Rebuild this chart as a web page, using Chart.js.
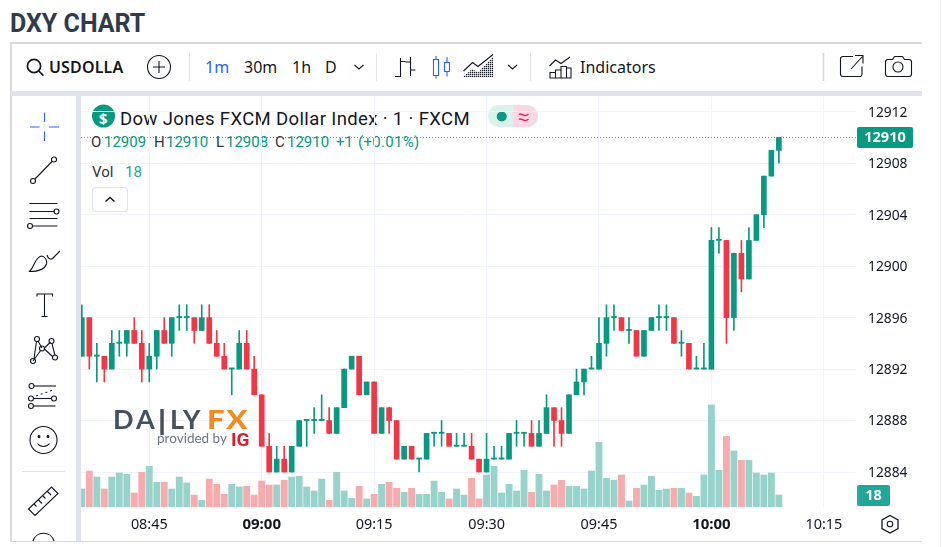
<!DOCTYPE html>
<html><head><meta charset="utf-8">
<script src="https://cdn.jsdelivr.net/npm/chart.js@4"></script>
<style>
html,body{margin:0;padding:0;background:#fff;width:947px;height:547px;overflow:hidden}
.a{position:absolute;white-space:nowrap;line-height:1}
.w{font-family:"Noto Sans",sans-serif;color:#131722}
svg.a{fill:none;stroke:#131722;stroke-width:1.1;overflow:visible}
#chart{position:absolute;left:0;top:0}
.g{color:#089981}
.l{font:700 27px Lato,sans-serif;color:#46505f;top:402px}
.f{font:900 27px Lato,sans-serif;color:#f68a1f;top:402px;transform-origin:0 0}
</style></head><body>
<div class="a" style="left:10px;top:9px;font:700 25px Roboto,sans-serif;color:#2f3b4b">DXY CHART</div>
<div class="a" style="left:10px;top:42px;width:912px;height:1.5px;background:#d9d9d9"></div>
<div class="a" style="left:10px;top:42px;width:1.5px;height:500px;background:#d9d9d9"></div>
<div class="a" style="left:10px;top:540.5px;width:912px;height:1.5px;background:#d9d9d9"></div>
<div class="a" style="left:940px;top:0;width:1px;height:547px;background:#f3f3f3"></div>
<div class="a" style="left:11px;top:91px;width:911px;height:5px;background:#e0e3eb"></div>
<div class="a" style="left:76px;top:96px;width:5px;height:445px;background:#e0e3eb"></div>

<svg class="a" style="left:0;top:0;width:947px;height:547px">
 <g stroke-width="1.7"><circle cx="34" cy="66" r="6.6"/><path d="M38.8 71l4.6 4.6"/></g>
 <circle cx="159" cy="67" r="11.5" stroke-width="1.1"/><path d="M153 67h12M159 61v12"/>
 <g stroke="#e0e3eb"><path d="M189.500 53v28M376.500 53v28M530.500 53v28"/></g><path d="M823.500 53v28" stroke="#d6d6d6" stroke-width="1.6"/>
 <path d="M354.500 65l4.500 4 4.500-4M508 65l4.500 4 4.500-4"/>
 <path d="M400.500 58v19M395 76.500h5.500M400.500 61.500h5M410.500 57v19M405.500 62h5M410.500 70h5"/>
 <g stroke="#2962ff"><rect x="433.500" y="59.500" width="5" height="16"/><path d="M436 56v3.500M436 75.500v3"/><rect x="444.500" y="62.500" width="5" height="9"/><path d="M447 57v5.500M447 71.500v5"/></g>
 <defs><pattern id="h" width="2" height="2" patternUnits="userSpaceOnUse"><rect width="1.300" height="1.300" fill="#131722" stroke="none"/></pattern></defs>
 <path d="M463 77l9-8 6 3.500 15-15.500v20z" fill="url(#h)" stroke="none"/><path d="M463.500 71l9-8.500 5.500 4 15-12"/>
 <path d="M549.500 66l6-6 5.500 3.500 9-6.500"/><path d="M550 72.500h5.500v5.500h-5.500zM555.500 70h5.500v8h-5.500zM561 66.500h5.500v11.500H561zM566.500 68h4.500v10h-4.500z"/>
 <path d="M853 56.500h-10a2.500 2.500 0 0 0-2.500 2.500v15a2.500 2.500 0 0 0 2.500 2.500h16.500a2.500 2.500 0 0 0 2.500-2.500v-7.500M851 69l11.500-12.500M855 55.500h8v8"/>
 <path d="M885.500 62a2.500 2.500 0 0 1 2.500-2.500h4.500l2-3h8l2 3h4.500a2.500 2.500 0 0 1 2.500 2.500v12a2.500 2.500 0 0 1-2.500 2.500h-21a2.500 2.500 0 0 1-2.500-2.500z"/><circle cx="898" cy="67" r="5"/>
 <g stroke="#2962ff"><path d="M30 127h9.500M49 127h10M44.500 112.500v9.500M44.500 131.500v9.500"/></g>
 <circle cx="33" cy="181" r="2.500"/><circle cx="54" cy="159.500" r="2.500"/><path d="M35 179l17-17.500"/>
 <path d="M29.500 203.500h28M29.500 211.500h25M29.500 218.500h28M33 226h24.500"/><circle cx="56.500" cy="211.500" r="2.500"/><circle cx="30" cy="226" r="2.500"/>
 <path d="M29.500 271.500c6-6 5-14 12-15.500 3 0 6 4 5 8-2 6-8 7.500-17 7.500zM47 255c1 4 4 5 6 3l7-7"/>
 <path d="M37 296.500v-2.500h15.500v2.500M44.500 294v22.500M41.500 316.500h6"/>
 <g><circle cx="37" cy="339" r="2.500"/><circle cx="51.500" cy="341" r="2.500"/><circle cx="33" cy="361" r="2.500"/><circle cx="42" cy="348.500" r="2.500"/><circle cx="55" cy="357.500" r="2.500"/><path d="M34 358.500l2.500-17M38 341l4 7M33 361l8-11M44.500 348l6-6M52 343.500l3 12M44.500 349l8 7.500"/></g>
 <circle cx="31.500" cy="386" r="2.500"/><path d="M34 386h22"/><circle cx="31" cy="398.500" r="2.500"/><path d="M33.500 398.500h18"/><circle cx="54" cy="398.500" r="2.500"/><circle cx="31" cy="406" r="2.500"/><path d="M33.500 406h22"/><path d="M36 396l17-6" stroke-dasharray="2 3"/>
 <circle cx="43.500" cy="440" r="13.500"/><circle cx="39" cy="436.500" r="1" fill="#131722"/><circle cx="48" cy="436.500" r="1" fill="#131722"/><path d="M37.500 443.500c3 4 9 4 12 0"/>
 <path d="M22 471.500h43" stroke="#e0e3eb"/>
 <path d="M29 512l23-22 6.500 6.500-23 22zM34.500 507l2.500 2.500M39 503l3.500 3.500M43.500 499l2.500 2.500M48 494.500l3.500 3.500" transform="translate(-.5,-3)"/>
 <path d="M33 541a11 11 0 0 1 21 0"/>
 <path d="M513 105h-14a11 11 0 0 0 0 22h14z" fill="#daf1ec" stroke="none"/><path d="M513 105h14a11 11 0 0 1 0 22h-14z" fill="#fcd6e2" stroke="none"/>
 <circle cx="501.700" cy="116.500" r="5" fill="#089981" stroke="none"/>
 <path d="M519 114.500c2-2 4 1.500 6.500 1 1.500 0 2-.5 3-1.500M519 119.500c2-2 4 1.500 6.500 1 1.500 0 2-.5 3-1.500" stroke="#e91e63" stroke-width="1.300"/>
 <rect x="92.500" y="187.500" width="35" height="24" rx="3.500" stroke="#e0e3eb"/><path d="M105.500 201.500l4.500-4 4.500 4" stroke-width="1.500"/>
 <circle cx="103.500" cy="116" r="11.500" fill="#089981" stroke="none"/>
 <path d="M890 515.500l8 4.500v8.500l-8 4.500-8-4.500v-8.500z" stroke-width="1.300"/><circle cx="890" cy="524" r="2.800"/>
</svg>

<div class="a" style="left:99px;top:108px;font:700 15px 'Noto Sans',sans-serif;color:#fff">$</div>
<div class="a w" style="left:49px;top:59px;font-size:16px;font-weight:600;letter-spacing:.15px">USDOLLA</div>
<div class="a w" style="left:205px;top:59px;font-size:16px;color:#2962ff">1m</div>
<div class="a w" style="left:244px;top:59px;font-size:16px">30m</div>
<div class="a w" style="left:292px;top:59px;font-size:16px">1h</div>
<div class="a w" style="left:325px;top:59px;font-size:16px">D</div>
<div class="a w" style="left:580px;top:59px;font-size:16px">Indicators</div>
<div class="a" style="left:120px;top:107.500px;font:400 18.500px Roboto,sans-serif;letter-spacing:.37px;color:#131722">Dow Jones FXCM Dollar Index · 1 · FXCM</div>
<div class="a" id="ohlc" style="left:0;top:135px;font:400 15px Roboto,sans-serif">
 <span class="a" style="left:91px;color:#333">O</span><span class="a g" style="left:104px">12909</span>
 <span class="a" style="left:154px;color:#333">H</span><span class="a g" style="left:166px">12910</span>
 <span class="a" style="left:216px;color:#333">L</span><span class="a g" style="left:226px">12908</span>
 <span class="a" style="left:275px;color:#333">C</span><span class="a g" style="left:287px">12910</span>
 <span class="a g" style="left:336px">+1</span><span class="a g" style="left:358px;letter-spacing:.3px">(+0.01%)</span>
</div>
<div class="a" style="left:92px;top:162.500px;font:400 15px Roboto,sans-serif;color:#333">Vol</div>
<div class="a" style="left:125px;top:162.500px;font:400 15px Roboto,sans-serif;color:#26a69a">18</div>

<canvas id="chart" width="947" height="547"></canvas>

<div class="a l" style="left:113px;letter-spacing:3px">DA</div>
<div class="a l" style="left:157px;top:399px;font-size:36px;font-weight:400">I</div>
<div class="a l" style="left:170px;letter-spacing:1.5px">LY</div>
<div class="a f" style="left:207px;letter-spacing:1.500px;transform:scaleX(1.15)">FX</div>
<div class="a" style="left:157px;top:430px;font:400 13.500px Lato,sans-serif;color:#6f7580">provided by</div>
<div class="a" style="left:231px;top:428px;font:700 19px Roboto,sans-serif;color:#d8202f">IG</div>

<script>
const categories=["08:36","08:37","08:38","08:39","08:40","08:41","08:42","08:43","08:44","08:45","08:46","08:47","08:48","08:49","08:50","08:51","08:52","08:53","08:54","08:55","08:56","08:57","08:58","08:59","09:00","09:01","09:02","09:03","09:04","09:05","09:06","09:07","09:08","09:09","09:10","09:11","09:12","09:13","09:14","09:15","09:16","09:17","09:18","09:19","09:20","09:21","09:22","09:23","09:24","09:25","09:26","09:27","09:28","09:29","09:30","09:31","09:32","09:33","09:34","09:35","09:36","09:37","09:38","09:39","09:40","09:41","09:42","09:43","09:44","09:45","09:46","09:47","09:48","09:49","09:50","09:51","09:52","09:53","09:54","09:55","09:56","09:57","09:58","09:59","10:00","10:01","10:02","10:03","10:04","10:05","10:06","10:07","10:08","10:09"];
const opens=[12893,12896,12893,12893,12892,12894,12894,12895,12894,12892,12893,12895,12894,12896,12896,12896,12895,12896,12894,12893,12892,12892,12894,12892,12890,12886,12884,12885,12884,12886,12888,12888,12888,12888,12887,12889,12892,12893,12890,12891,12887,12889,12888,12885,12886,12885,12885,12887,12887,12887,12886,12886,12886,12885,12884,12885,12885,12885,12887,12887,12887,12886,12887,12889,12888,12887,12890,12891,12892,12892,12894,12896,12896,12895,12895,12893,12895,12896,12896,12896,12894,12894,12892,12892,12892,12902,12902,12896,12901,12899,12902,12904,12907,12909];
const closes=[12896,12893,12893,12892,12894,12894,12895,12894,12892,12893,12895,12894,12896,12896,12896,12895,12896,12894,12893,12892,12892,12894,12892,12890,12886,12884,12885,12884,12886,12888,12888,12888,12888,12887,12889,12892,12893,12890,12891,12887,12889,12888,12885,12886,12885,12885,12887,12887,12887,12886,12886,12886,12885,12884,12885,12885,12885,12887,12887,12887,12886,12887,12889,12888,12887,12890,12891,12892,12892,12894,12896,12896,12895,12895,12893,12895,12896,12896,12896,12894,12894,12892,12892,12892,12902,12902,12896,12901,12899,12902,12904,12907,12909,12910];
const highs=[12897,12896,12894,12893,12895,12895,12895,12896,12895,12894,12895,12896,12896,12897,12897,12896,12897,12897,12895,12894,12892,12895,12895,12893,12890,12887,12886,12886,12886,12888,12888,12889,12890,12889,12889,12892,12893,12893,12891,12891,12889,12889,12888,12886,12886,12885,12887,12887,12888,12887,12887,12887,12887,12885,12887,12886,12886,12887,12888,12887,12888,12888,12890,12889,12889,12890,12892,12892,12893,12896,12897,12897,12896,12896,12895,12895,12896,12897,12897,12896,12895,12894,12893,12894,12903,12903,12902,12901,12902,12903,12904,12907,12909,12910];
const lows=[12893,12892,12891,12891,12892,12893,12893,12894,12891,12891,12892,12894,12893,12895,12895,12894,12895,12894,12893,12892,12890,12892,12892,12890,12886,12884,12884,12884,12884,12886,12886,12887,12888,12887,12887,12889,12892,12890,12890,12887,12887,12887,12885,12885,12885,12884,12885,12886,12886,12886,12886,12886,12885,12884,12884,12885,12885,12885,12886,12886,12886,12886,12887,12886,12886,12887,12890,12890,12892,12892,12893,12895,12895,12894,12893,12893,12895,12895,12895,12894,12893,12892,12892,12892,12892,12901,12894,12895,12898,12899,12902,12903,12907,12908];
const volumes=[27,54,45,27,45,51,49,21,52,61,37,37,27,45,36,18,10,42,34,19,34,30,31,18,39,33,33,40,45,46,30,24,42,10,52,24,13,31,12,19,34,37,28,22,28,19,19,39,22,12,27,18,43,12,48,61,21,34,24,55,22,49,24,33,40,31,31,27,54,97,43,40,48,9,28,33,46,25,27,28,28,21,16,48,153,55,106,84,70,70,51,48,51,18];
const timeTickLabels=["08:45","09:00","09:15","09:30","09:45","10:00","10:15"];
const boldTickLabels=["09:00","10:00"];
const priceTickLabels=[12884,12888,12892,12896,12900,12904,12908,12912];

const UP="#089981",DOWN="#f23645",VUP="#97d3cb",VDOWN="#f6abae";
const toMin=s=>{const p=s.split(":");return +p[0]*60+ +p[1]};
const toLabel=m=>String(Math.floor(m/60)).padStart(2,"0")+":"+String(m%60).padStart(2,"0");
const xs=categories.map(toMin);
const isUp=opens.map((o,i)=>closes[i]>=o);
const candleColors=isUp.map(u=>u?UP:DOWN);
const bar={grouped:false,barPercentage:1,categoryPercentage:1,borderWidth:0,borderSkipped:false};
const lastIdx=categories.length-1;

const priceLine={id:"priceLine",
 beforeDatasetsDraw(c){const g=c.ctx,y=Math.floor(c.scales.y.getPixelForValue(closes[lastIdx]))+.5;
  g.save();g.globalAlpha=.75;g.strokeStyle=UP;g.lineWidth=1;g.setLineDash([1,2]);g.beginPath();g.moveTo(c.chartArea.left,y);g.lineTo(c.chartArea.right,y);g.stroke();g.restore();},
 afterDraw(c){const g=c.ctx,py=c.scales.y.getPixelForValue(closes[lastIdx]),vy=c.scales.v.getPixelForValue(volumes[lastIdx])+.5;
  const tag=(w,cy,col,t)=>{g.fillStyle=col;g.beginPath();g.roundRect(857,cy-10.5,w,21,2);g.fill();
   g.fillStyle="#fff";g.font='700 14.5px "Noto Sans"';g.textAlign="center";g.textBaseline="middle";g.fillText(t,857+w/2,cy+.5);};
  g.save();tag(56,py,UP,String(closes[lastIdx]));tag(33,vy,"#22a699",String(volumes[lastIdx]));g.restore();}
};

const chart=new Chart(document.getElementById("chart"),{
 type:"bar",
 plugins:[priceLine],
 data:{datasets:[
  {label:"Volume",yAxisID:"v",order:3,maxBarThickness:6.2,...bar,
   data:xs.map((x,i)=>({x,y:volumes[i]})),backgroundColor:isUp.map(u=>u?VUP:VDOWN)},
  {label:"Wick",yAxisID:"y",order:2,maxBarThickness:1,...bar,
   data:xs.map((x,i)=>({x,y:[lows[i],highs[i]]})),backgroundColor:candleColors},
  {label:"USDOLLAR",yAxisID:"y",order:1,maxBarThickness:5,minBarLength:1.2,...bar,
   data:xs.map((x,i)=>({x,y:[opens[i],closes[i]]})),backgroundColor:candleColors}
 ]},
 options:{responsive:false,animation:false,events:[],
  layout:{padding:{left:81,top:96,right:0,bottom:0}},
  plugins:{legend:{display:false},tooltip:{enabled:false}},
  scales:{
   x:{type:"linear",offset:false,min:515.89,max:619.29,
    afterBuildTicks:s=>{s.ticks=timeTickLabels.map(t=>({value:toMin(t)}))},
    afterFit:s=>{s.height=40},
    grid:{color:"#f0f3fa",drawTicks:false,offset:false},border:{display:false},
    ticks:{autoSkip:false,maxRotation:0,padding:9,color:"#131722",
     callback:v=>toLabel(v),
     font:ctx=>{const b=ctx.tick&&boldTickLabels.includes(toLabel(ctx.tick.value));return {family:"Noto Sans",size:b?15:14.4,weight:b?"700":"400"}}}},
   y:{position:"right",min:12881.28,max:12913.226,
    afterBuildTicks:s=>{s.ticks=priceTickLabels.map(v=>({value:v}))},
    afterFit:s=>{s.width=91},
    grid:{color:"#f0f3fa",drawTicks:false},border:{display:false},
    ticks:{padding:12,color:"#131722",callback:v=>String(v),font:{family:"Noto Sans",size:13.8}}},
   v:{display:false,position:"left",min:0,max:616,grid:{display:false}}
  }}
});
const yAxis=chart.scales.y,drawYLabels=yAxis.drawLabels;
yAxis.drawLabels=function(a){this.ctx.save();this.ctx.translate(0,1);drawYLabels.call(this,a);this.ctx.restore()};
chart.draw();
</script>
</body></html>
